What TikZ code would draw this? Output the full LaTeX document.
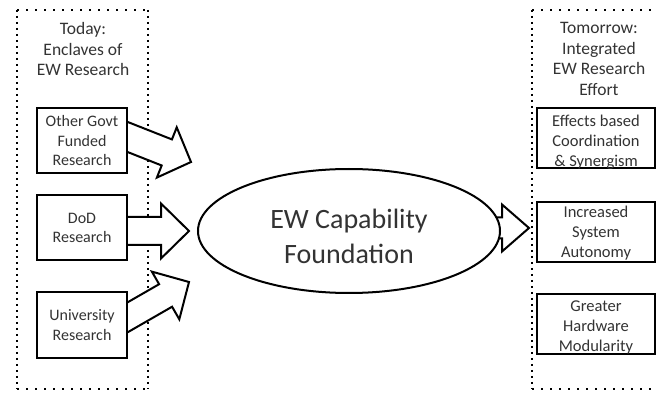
\documentclass[tikz,border=0pt]{standalone}
\usepackage{fontspec}
\setmainfont{Carlito}
\usetikzlibrary{calc,shapes.geometric}
\pgfdeclarelayer{frame}
\pgfdeclarelayer{arrows}
\pgfsetlayers{frame,arrows,main}
% block arrow: #1 tail, #2 tip, #3 half shaft width, #4 half head width, #5 head length
\newcommand\blockarrow[5]{%
  \coordinate (ba-h) at ($(#2)!#5!(#1)$);
  \filldraw[barrowstyle]
    ($(#1)!#3!90:(#2)$) -- ($(ba-h)!#3!90:(#2)$) -- ($(ba-h)!#4!90:(#2)$) --
    (#2) --
    ($(ba-h)!#4!-90:(#2)$) -- ($(ba-h)!#3!-90:(#2)$) -- ($(#1)!#3!-90:(#2)$) -- cycle;
}
\definecolor{txtgray}{HTML}{333333}
\begin{document}
\begin{tikzpicture}[x=1pt,y=-1pt,
  dotv/.style={line width=2pt, dash pattern=on 2pt off 4pt},
  doth/.style={line width=2pt, dash pattern=on 2pt off 7pt},
  barrowstyle/.style={draw=black, fill=white, line width=2pt, line join=miter},
  hdr/.style={align=center, inner sep=0pt, text=txtgray, font=\fontsize{17.5}{20.5}\selectfont},
  lbox/.style={draw, line width=2pt, fill=white, minimum width=90pt, minimum height=65pt,
    inner sep=0pt, align=center, text=txtgray, font=\fontsize{16}{19.5}\selectfont},
  rbx/.style={draw, line width=2pt, fill=white, minimum width=118pt, minimum height=60pt, inner sep=0pt},
  rtxt/.style={align=center, inner sep=0pt, text=txtgray, font=\fontsize{16.5}{20}\selectfont},
  ell/.style={draw, ellipse, line width=2pt, fill=white, minimum width=302pt, minimum height=124pt,
    inner sep=0pt},
  etxt/.style={align=center, inner sep=0pt, text=txtgray, font=\fontsize{28}{35}\selectfont}
]
\useasboundingbox (0,0) rectangle (657,393);

% headers
\node[hdr] (today) at (83,49) {Today:\\Enclaves of\\EW Research};
\node[hdr] (tomorrow) at (599,59) {Tomorrow:\\Integrated\\EW Research\\Effort};

% left boxes
\node[lbox] (b1) at (82,141) {Other Govt\\Funded\\Research};
\node[lbox] (b2) at (82,228) {DoD\\Research};
\node[lbox] (b3) at (82,325) {University\\Research};

% ellipse
\node[ell] (ew) at (349,231) {};
\node[etxt] (ewt) at ($(ew.center)+(0,5)$) {EW Capability\\Foundation};

% right boxes
\node[rbx] (r1) at (596,138) {};
\node[rtxt] (r1t) at ($(r1.center)+(0,4)$) {Effects based\\Coordination\\\& Synergism};
\node[rbx] (r2) at (596,232.5) {};
\node[rtxt] (r2t) at ($(r2.center)+(0,1)$) {Increased\\System\\Autonomy};
\node[rbx] (r3) at (596,324) {};
\node[rtxt] (r3t) at ($(r3.center)+(0,3)$) {Greater\\Hardware\\Modularity};

% dotted frames
\begin{pgfonlayer}{frame}
  \draw[doth] (17,10) -- (148,10);
  \draw[doth] (17,389) -- (148,389);
  \draw[dotv] (17,10) -- (17,389);
  \draw[dotv] (148,10) -- (148,389);
  \draw[doth] (532,10) -- (660,10);
  \draw[doth] (532,389) -- (660,389);
  \draw[dotv] (532,10) -- (532,389);
\end{pgfonlayer}

% block arrows
\begin{pgfonlayer}{arrows}
  \coordinate (t1) at ($(b1.east)+(-12,-8.6)$);
  \coordinate (p1) at ($(ew.west)+(-6,-69)$);
  \blockarrow{t1}{p1}{14pt}{27pt}{26pt}
  \coordinate (t2) at ($(b2.east)+(-12,3)$);
  \coordinate (p2) at ($(ew.west)+(-8,0)$);
  \blockarrow{t2}{p2}{14pt}{27.5pt}{28pt}
  \coordinate (t3) at ($(b3.east)+(-12,-1)$);
  \coordinate (p3) at ($(ew.west)+(-8,51)$);
  \blockarrow{t3}{p3}{13pt}{27.5pt}{27pt}
  \coordinate (t4) at ($(ew.east)+(-30,-3)$);
  \coordinate (p4) at ($(r2.west)+(-7,-4.5)$);
  \blockarrow{t4}{p4}{10.5pt}{23.5pt}{27pt}
\end{pgfonlayer}
\end{tikzpicture}
\end{document}
